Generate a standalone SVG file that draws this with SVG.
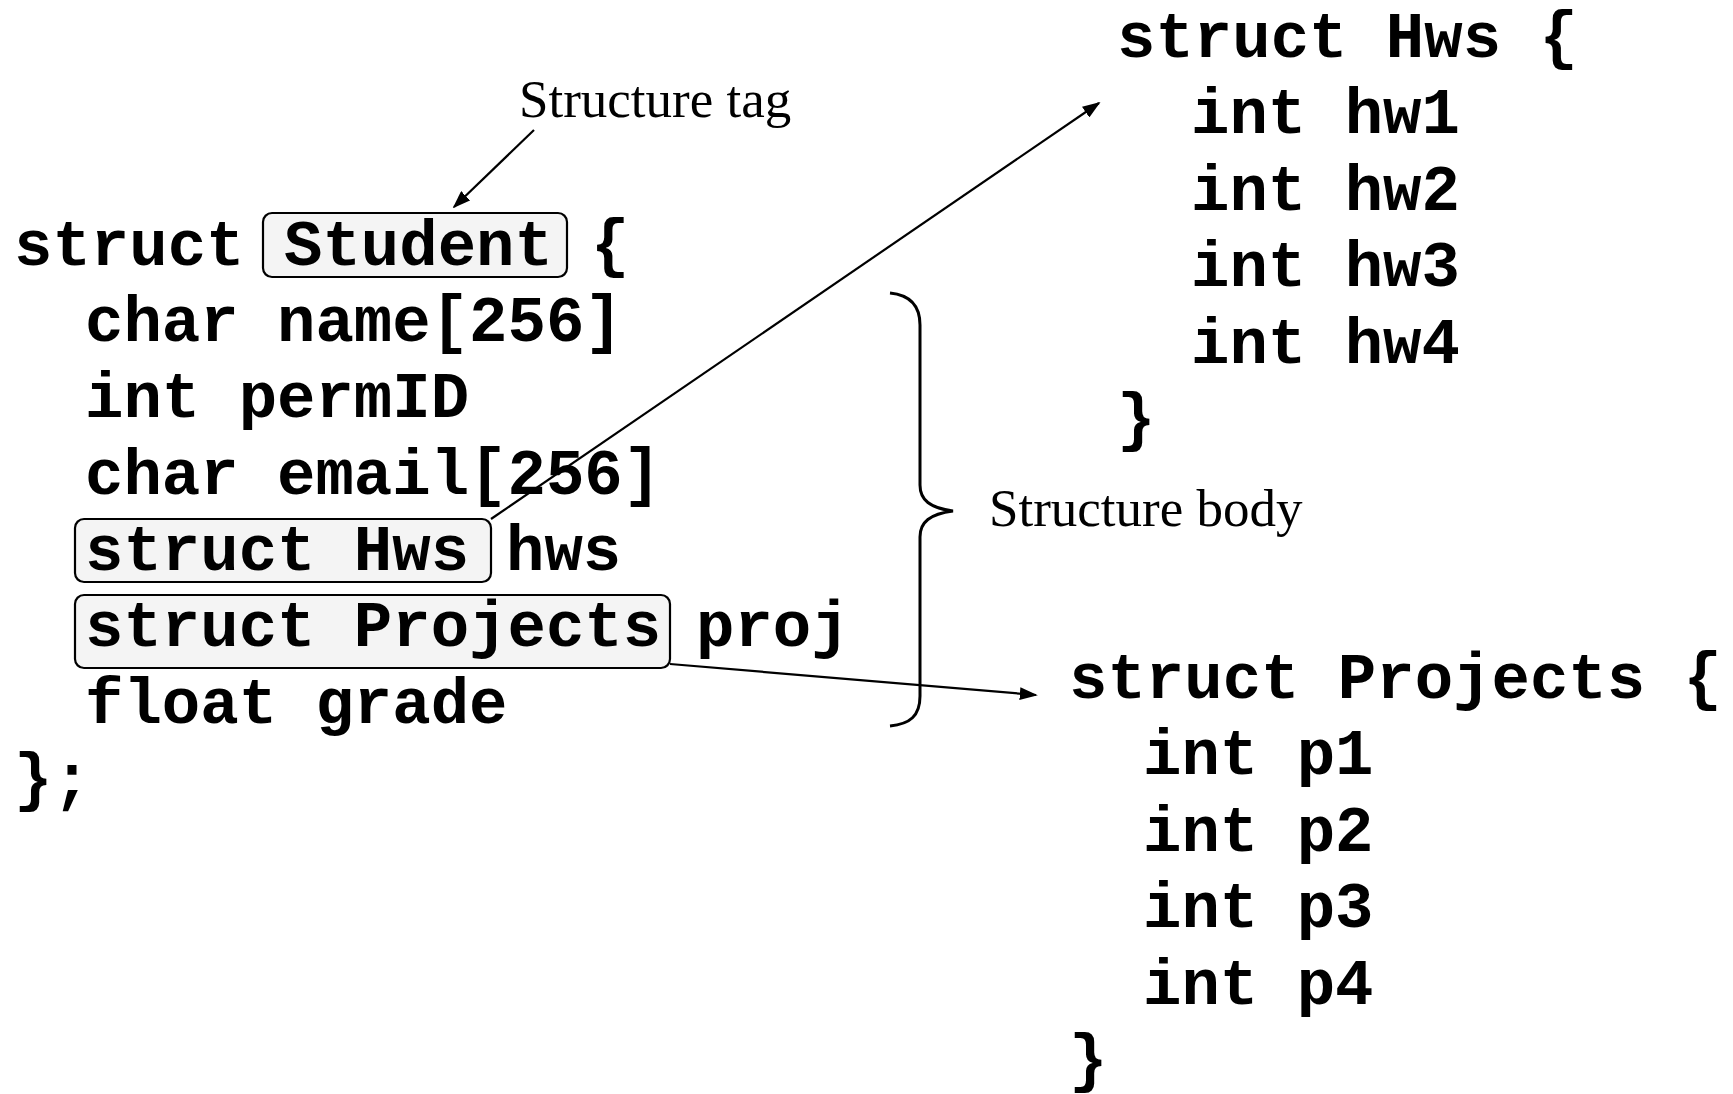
<svg xmlns="http://www.w3.org/2000/svg" width="1733" height="1094" viewBox="0 0 1733 1094">
<defs>
<style>
.code{font-family:"Liberation Mono","Courier New",monospace;font-weight:bold;font-size:64px;fill:#000;}
.lbl{font-family:"Liberation Serif","Times New Roman",serif;font-size:53px;fill:#000;}
.box{fill:#f4f4f4;stroke:#000;stroke-width:2.2;}
.conn{stroke:#000;stroke-width:2.2;fill:none;}
</style>
<marker id="ah" viewBox="0 0 10 10" refX="9" refY="5" markerWidth="18" markerHeight="13" markerUnits="userSpaceOnUse" orient="auto" preserveAspectRatio="none">
<path d="M0,0 L10,5 L0,10 z" fill="#000"/>
</marker>
</defs>
<rect width="1733" height="1094" fill="#fff"/>
<g id="student">
<rect class="box" x="263" y="213" width="304" height="64" rx="9"/>
<rect class="box" x="75" y="519" width="416" height="63" rx="9"/>
<rect class="box" x="75" y="595" width="595" height="73" rx="9"/>
<text class="code" x="14" y="265">struct</text>
<text class="code" x="284" y="265">Student</text>
<text class="code" x="591" y="265">{</text>
<text class="code" x="85" y="341">char name[256]</text>
<text class="code" x="85" y="417">int permID</text>
<text class="code" x="85" y="494">char email[256]</text>
<text class="code" x="85" y="570">struct Hws</text>
<text class="code" x="506" y="570">hws</text>
<text class="code" x="85" y="646">struct Projects</text>
<text class="code" x="696" y="646">proj</text>
<text class="code" x="85" y="723">float grade</text>
<text class="code" x="14" y="799">};</text>
</g>
<g id="hws">
<text class="code" x="1117" y="57">struct Hws {</text>
<text class="code" x="1191" y="133">int hw1</text>
<text class="code" x="1191" y="210">int hw2</text>
<text class="code" x="1191" y="286">int hw3</text>
<text class="code" x="1191" y="363">int hw4</text>
<text class="code" x="1117" y="439">}</text>
</g>
<g id="projects">
<text class="code" x="1069" y="698">struct Projects {</text>
<text class="code" x="1143" y="774">int p1</text>
<text class="code" x="1143" y="851">int p2</text>
<text class="code" x="1143" y="927">int p3</text>
<text class="code" x="1143" y="1004">int p4</text>
<text class="code" x="1069" y="1080">}</text>
</g>
<g id="tag-label">
<text class="lbl" x="519" y="117">Structure tag</text>
</g>
<g id="body-label">
<path class="conn" style="stroke-width:3" d="M890,293 C910,295 920,305 920,325 L920,485 C920,500 930,508 953,511 C930,514 920,522 920,537 L920,696 C920,716 910,724 890,726"/>
<text class="lbl" x="989" y="526">Structure body</text>
</g>
<g id="connectors">
<line class="conn" x1="534" y1="130" x2="454" y2="207" marker-end="url(#ah)"/>
<line class="conn" x1="491" y1="519" x2="1099" y2="103" marker-end="url(#ah)"/>
<line class="conn" x1="670" y1="664" x2="1036" y2="695" marker-end="url(#ah)"/>
</g>
</svg>
